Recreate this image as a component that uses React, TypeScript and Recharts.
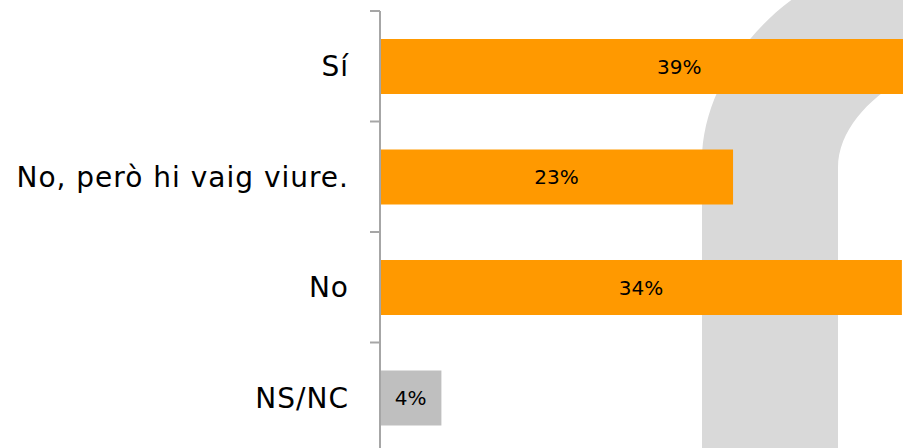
import { Bar, BarChart, Cell, LabelList, XAxis, YAxis } from "recharts";

const categories = ["Sí", "No, però hi vaig viure.", "No", "NS/NC"];
const values = [39, 23, 34, 4];

const ORANGE = "#FF9900";
const GREY_BAR = "#BFBFBF";
const AXIS = "#A6A6A6";
const FONT = "'DejaVu Sans', sans-serif";

const CHART_W = 1000;
const CHART_H = 453;
const TOP = 11;
const BAND = (CHART_H - TOP) / categories.length;

const data = categories.map((name, i) => ({ name, value: values[i] }));

function CategoryTick(props: any) {
  const { x, y, payload, index } = props;
  const tx = x + 20;
  return (
    <g>
      <text
        x={x - 1}
        y={y}
        dy="0.36em"
        textAnchor="end"
        fontSize={28}
        letterSpacing={1}
        fontFamily={FONT}
        fill="#000"
      >
        {payload.value}
      </text>
      <line x1={tx} x2={tx + 10} y1={y - BAND / 2} y2={y - BAND / 2} stroke={AXIS} strokeWidth={2} />
      {index === categories.length - 1 && (
        <line x1={tx} x2={tx + 10} y1={y + BAND / 2} y2={y + BAND / 2} stroke={AXIS} strokeWidth={2} />
      )}
    </g>
  );
}

// faint arch watermark in the background
function Watermark() {
  return (
    <svg width={903} height={448} style={{ position: "absolute", left: 0, top: 0 }}>
      <path
        d="M 702 460 L 702 160 C 702 100, 742 30, 806 -10 L 910 -10 L 910 74 C 872 96, 838 128, 838 168 L 838 460 Z"
        fill="#D9D9D9"
      />
    </svg>
  );
}

export default function App() {
  return (
    <div
      style={{
        position: "absolute",
        left: 0,
        top: 0,
        width: 903,
        height: 448,
        overflow: "hidden",
        background: "#fff",
      }}
    >
      <Watermark />
      <div style={{ position: "absolute", left: 0, top: 0 }}>
        <BarChart
          width={CHART_W}
          height={CHART_H}
          data={data}
          layout="vertical"
          margin={{ top: TOP, right: 6, bottom: 0, left: 0 }}
        >
          <XAxis type="number" domain={[0, 40]} hide />
          <YAxis
            type="category"
            dataKey="name"
            width={380}
            axisLine={{ stroke: AXIS, strokeWidth: 2 }}
            tickLine={false}
            tickSize={10}
            tickMargin={20}
            tick={<CategoryTick />}
            interval={0}
          />
          <Bar dataKey="value" barSize={55} isAnimationActive={false}>
            {data.map((d) => (
              <Cell key={d.name} fill={d.name === "NS/NC" ? GREY_BAR : ORANGE} />
            ))}
            <LabelList
              dataKey="value"
              position="center"
              formatter={(v: any) => `${v}%`}
              fill="#000"
              fontSize={20}
              fontFamily={FONT}
            />
          </Bar>
        </BarChart>
      </div>
    </div>
  );
}
